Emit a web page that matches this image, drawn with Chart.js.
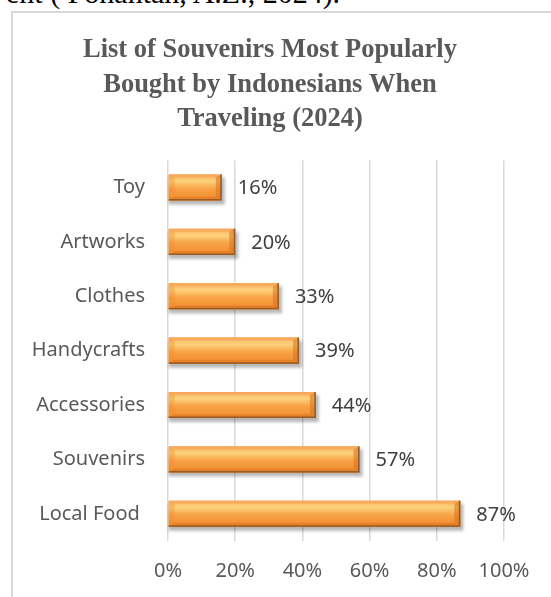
<!DOCTYPE html>
<html>
<head>
<meta charset="utf-8">
<script src="https://cdn.jsdelivr.net/npm/chart.js@4.4.1/dist/chart.umd.min.js"></script>
<style>
  body { margin: 0; background: #fff; width: 551px; height: 597px; overflow: hidden; position: relative; }
  .above { position: absolute; left: 6px; top: -24px; font-family: "Liberation Serif", serif; font-size: 30px; color: #000; white-space: nowrap; }
  .frame { position: absolute; left: 11px; top: 11px; width: 600px; height: 640px; border: 2px solid #d9d9d9; box-sizing: border-box; }
  .wrap { position: absolute; left: 13px; top: 13px; width: 538px; height: 584px; }
</style>
</head>
<body>
<div class="above">ent ( Pohantan, A.Z., 2024).</div>
<div class="frame"></div>
<div class="wrap"><canvas id="chart"></canvas></div>
<script>
let categories = ["Toy", "Artworks", "Clothes", "Handycrafts", "Accessories", "Souvenirs", "Local Food\u00a0"];
let shares = [16, 20, 33, 39, 44, 57, 87];
let xTicks = [0, 20, 40, 60, 80, 100];
let titleLines = ["List of Souvenirs Most Popularly", "Bought by Indonesians When", "Traveling (2024)"];

const labelFont = '"Noto Sans", sans-serif';

// title sits centred in the frame, not over the whole canvas
let titleShift = {
  id: "titleShift",
  afterLayout(chart) {
    if (chart.titleBlock) chart.titleBlock.left = 23;
  },
};

// soft shadow under each bar
let shadowPlugin = {
  id: "barShadow",
  beforeDatasetsDraw(chart) {
    let ctx = chart.ctx;
    chart.getDatasetMeta(0).data.forEach((bar) => {
      let p = bar.getProps(["x", "y", "base", "height"], true);
      ctx.save();
      ctx.fillStyle = "rgba(0,0,0,0.28)";
      ctx.filter = "blur(1.5px)";
      ctx.fillRect(p.base, p.y - p.height / 2 + 3, p.x - p.base + 3, p.height + 1);
      ctx.restore();
    });
  },
};

// bevel look + value labels
let bevelPlugin = {
  id: "barBevel",
  afterDatasetsDraw(chart) {
    let ctx = chart.ctx;
    chart.getDatasetMeta(0).data.forEach((bar, i) => {
      let p = bar.getProps(["x", "y", "base", "height"], true);
      let l = p.base, r = p.x, t = p.y - p.height / 2, b = p.y + p.height / 2;
      let e = 6;
      ctx.save();
      let g = ctx.createLinearGradient(0, t, 0, b);
      g.addColorStop(0, "#f8ae62");
      g.addColorStop(0.25, "#fcd27c");
      g.addColorStop(0.55, "#f8a246");
      g.addColorStop(1, "#f08b2e");
      ctx.fillStyle = g;
      ctx.fillRect(l, t, r - l, b - t);

      function poly(pts, col) {
        ctx.beginPath();
        ctx.moveTo(pts[0][0], pts[0][1]);
        pts.slice(1).forEach((q) => ctx.lineTo(q[0], q[1]));
        ctx.closePath();
        ctx.fillStyle = col;
        ctx.fill();
      }
      poly([[l, t], [r, t], [r - e, t + 3], [l + e, t + 3]], "rgba(248,160,80,0.5)");
      poly([[l, b], [r, b], [r - e, b - 4], [l + e, b - 4]], "rgba(215,115,30,0.5)");
      poly([[r, t], [r, b], [r - e, b - 4], [r - e, t + 3]], "rgba(215,115,30,0.55)");
      poly([[l, t], [l, b], [l + e, b - 4], [l + e, t + 3]], "rgba(240,140,50,0.35)");

      ctx.strokeStyle = "#9a5a25";
      ctx.lineWidth = 1.5;
      ctx.beginPath();
      ctx.moveTo(l, b - 0.75);
      ctx.lineTo(r - 0.75, b - 0.75);
      ctx.lineTo(r - 0.75, t);
      ctx.stroke();

      ctx.fillStyle = "#404040";
      ctx.font = "20px " + labelFont;
      ctx.textAlign = "left";
      ctx.textBaseline = "middle";
      ctx.fillText(shares[i] + "%", r + 16, p.y + 1);
      ctx.restore();
    });
  },
};

new Chart(document.getElementById("chart"), {
  type: "bar",
  data: {
    labels: categories,
    datasets: [
      {
        data: shares,
        backgroundColor: "#f69a3c",
        borderWidth: 0,
        categoryPercentage: 1,
        barPercentage: 0.48,
      },
    ],
  },
  options: {
    indexAxis: "y",
    responsive: true,
    maintainAspectRatio: false,
    animation: false,
    layout: { padding: { top: 20, right: 47, bottom: 0, left: 0 } },
    plugins: {
      legend: { display: false },
      tooltip: { enabled: false },
      title: {
        display: true,
        text: titleLines,
        color: "#595959",
        font: { family: '"Liberation Serif", serif', size: 26.5, weight: "bold", lineHeight: 1.3 },
        padding: { top: 0, bottom: 24 },
      },
    },
    scales: {
      x: {
        min: 0,
        max: 100,
        afterFit: (s) => { s.height = 56; s.paddingLeft = 0; s.paddingRight = 0; },
        afterBuildTicks: (s) => { s.ticks = xTicks.map((v) => ({ value: v })); },
        grid: { color: "#d9d9d9", lineWidth: 1.5, drawTicks: false },
        border: { display: false },
        ticks: {
          padding: 18,
          color: "#595959",
          font: { family: labelFont, size: 20 },
          callback: (v) => v + "%",
        },
      },
      y: {
        afterFit: (s) => { s.width = 155; },
        grid: { display: false, drawTicks: false },
        border: { display: false },
        ticks: {
          padding: 23,
          color: "#595959",
          font: { family: labelFont, size: 20 },
        },
      },
    },
  },
  plugins: [titleShift, shadowPlugin, bevelPlugin],
});
</script>
</body>
</html>
